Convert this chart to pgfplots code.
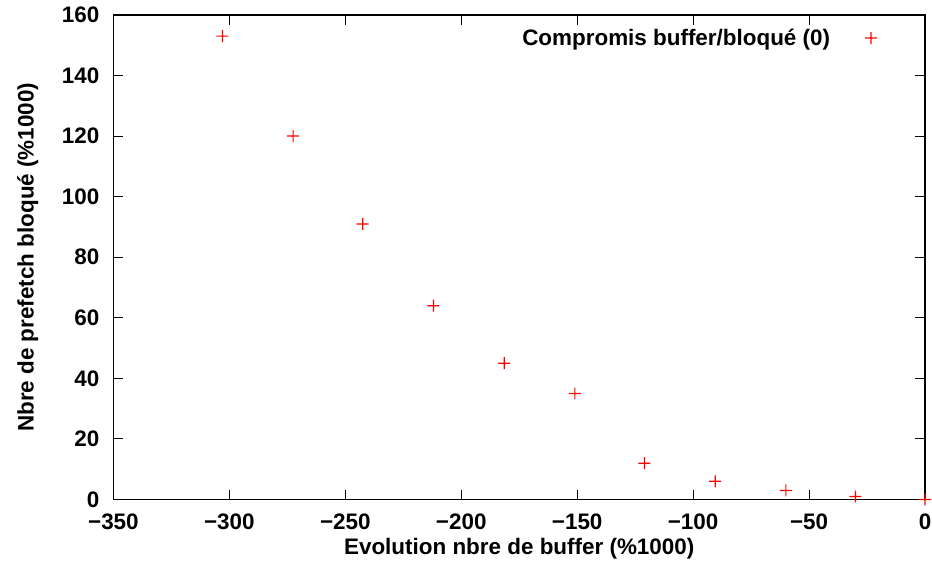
\documentclass[border=0pt]{standalone}
\usepackage{fontspec}
\setmainfont{Liberation Sans}
\usepackage{pgfplots}
\pgfplotsset{compat=1.18}
\definecolor{gpred}{RGB}{255,0,0}
\pgfdeclareplotmark{redplus}{%
  \pgfsetfillcolor{gpred}%
  \pgfpathrectangle{\pgfqpoint{-6bp}{-0.6bp}}{\pgfqpoint{12bp}{1.2bp}}%
  \pgfpathrectangle{\pgfqpoint{-0.6bp}{-6bp}}{\pgfqpoint{1.2bp}{12bp}}%
  \pgfusepathqfill}
\begin{document}
\newcommand{\chartfont}{\fontsize{22.5bp}{27bp}\selectfont\bfseries}
\begin{tikzpicture}
\path[use as bounding box] (0,0) rectangle (932bp,567bp);
\begin{axis}[
  at={(111bp,66bp)}, anchor=south west,
  scale only axis, width=814bp, height=486bp,
  xmin=-350, xmax=0, ymin=0, ymax=160,
  xtick={-350,-300,-250,-200,-150,-100,-50,0},
  xticklabels={−350,−300,−250,−200,−150,−100,−50,0},
  ytick={0,20,40,60,80,100,120,140,160},
  yticklabels={0,20,40,60,80,100,120,140,160},
  tick align=inside,
  major tick length=10bp,
  axis line style={line width=1.2bp},
  every tick/.style={black, line width=0.9bp},
  tick label style={font=\chartfont, inner sep=0pt},
  xticklabel style={anchor=north, yshift=-14bp},
  yticklabel style={anchor=east, xshift=-14bp},
  xlabel={Evolution nbre de buffer (\%1000)},
  ylabel={Nbre de prefetch bloqué (\%1000)},
  label style={font=\chartfont},
  xlabel style={at={(axis description cs:0.5,-0.1008)}, anchor=center},
  ylabel style={at={(axis description cs:-0.1057,0.5)}, anchor=center},
  legend plot pos=right,
  legend cell align=right,
  legend style={draw=none, fill=none, font=\chartfont, at={(axis description cs:1,1)}, anchor=north east, xshift=-45bp, yshift=-10bp},
]
\addplot[only marks, mark=redplus, color=gpred, fill=gpred, mark options={fill=gpred, draw=none, solid}] coordinates {
  (-303,153) (-272.5,120) (-242.5,91) (-212,64) (-181.5,45) (-151,35)
  (-121,12) (-90.5,6) (-60,3) (-30,1) (0,0)
};
\addlegendentry{Compromis buffer/bloqué (0)\rule{33bp}{0pt}}
\end{axis}
\end{tikzpicture}
\end{document}
